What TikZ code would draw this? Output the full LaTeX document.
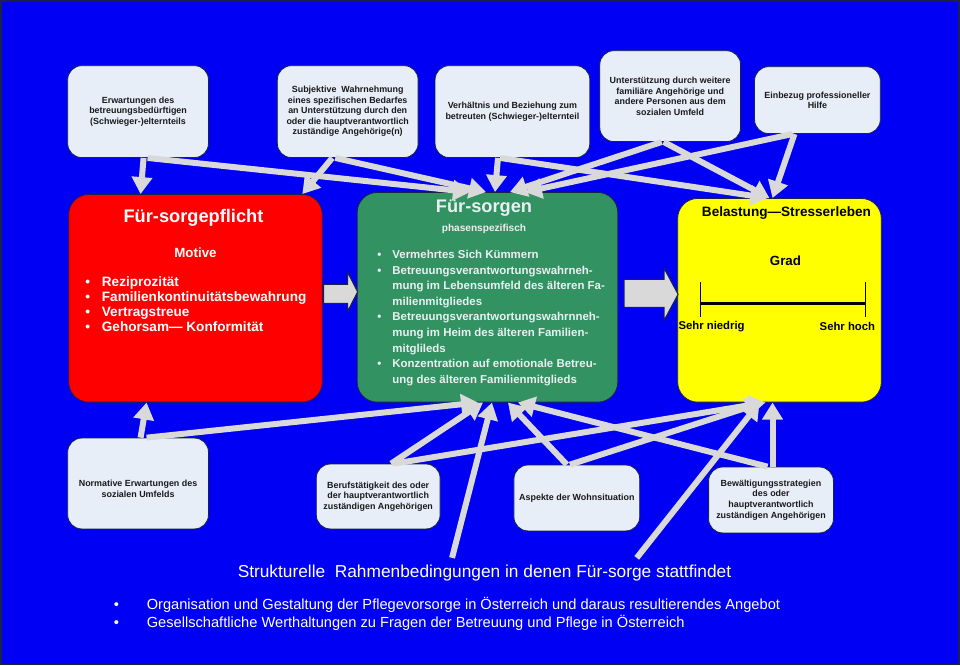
\documentclass[tikz,border=0pt]{standalone}
\usepackage{fontspec}
\setmainfont{Liberation Sans}
\usetikzlibrary{calc,arrows.meta}
\definecolor{bg}{RGB}{0,0,245}
\definecolor{boxfill}{RGB}{232,238,248}
\definecolor{boxline}{RGB}{25,35,70}
\definecolor{arrowgray}{RGB}{217,217,217}
\definecolor{fsgreen}{RGB}{50,146,98}
\definecolor{fsred}{RGB}{255,0,0}
\definecolor{fsyellow}{RGB}{255,255,0}
\definecolor{greentext}{RGB}{234,240,242}
\tikzset{
  sbox/.style={draw=boxline, line width=0.6pt, fill=boxfill, rounded corners=10.5pt,
    inner sep=0pt, align=center, font=\fontsize{6.7}{7.9}\selectfont\bfseries, text=black!90},
  stext/.style={inner sep=0pt, align=center, font=\fontsize{6.7}{7.9}\selectfont\bfseries, text=black!90},
  mainbox/.style={draw=boxline, line width=0.6pt, rounded corners=15pt, inner sep=0pt},
  conn/.style={draw=arrowgray, line width=4.5pt, -{Triangle[length=12.75pt,width=15pt]}},
  blockarrow/.style={fill=arrowgray, draw=boxline, line width=0.75pt, line join=miter},
  bigtitle/.style={inner sep=0pt, font=\fontsize{13.7}{16}\selectfont\bfseries},
  subtitle/.style={inner sep=0pt, font=\fontsize{10}{12}\selectfont\bfseries},
  listnode/.style={inner sep=0pt, anchor=west},
  scalelabel/.style={inner sep=0pt, font=\fontsize{8.5}{10}\selectfont\bfseries},
}
\begin{document}
\begin{tikzpicture}[x=0.75pt,y=-0.75pt]
\path[use as bounding box, fill=bg, draw=boxline, line width=1.2pt] (0,0) rectangle (960,665);

% top boxes
\node[sbox, minimum width=105.75pt, minimum height=69pt] (A) at (137.5,111)
  {Erwartungen des\\betreuungsbedürftigen\\(Schwieger-)elternteils};
\node[sbox, minimum width=105.75pt, minimum height=69pt] (B) at (347.5,111)
  {Subjektive~ Wahrnehmung\\eines spezifischen Bedarfes\\an Unterstützung durch den\\oder die hauptverantwortlich\\zuständige Angehörige(n)};
\node[sbox, minimum width=116.25pt, minimum height=69pt] (C) at (512.5,111)
  {Verhältnis und Beziehung zum\\betreuten (Schwieger-)elternteil};
\node[sbox, minimum width=105.75pt, minimum height=68.25pt] (D) at (670.5,95.5)
  {Unterstützung durch weitere\\familiäre Angehörige und\\andere Personen aus dem\\sozialen Umfeld};
\node[sbox, minimum width=94.5pt, minimum height=50.25pt] (E) at (818,99.5)
  {Einbezug professioneller\\Hilfe};

% main boxes
\node[mainbox, fill=fsred, minimum width=190.5pt, minimum height=156pt] (R) at (195,298) {};
\node[mainbox, fill=fsgreen, minimum width=195.75pt, minimum height=157.5pt] (Gr) at (487.5,297) {};
\node[mainbox, fill=fsyellow, minimum width=153pt, minimum height=153pt] (Y) at (780,300) {};

% red content
\node[bigtitle, text=white] (Rt) at (193,217) {Für-sorgepflicht};
\node[subtitle, text=white] (Rm) at (195,252) {Motive};
\node[listnode, text=white, font=\fontsize{10.2}{11.25}\selectfont\bfseries] (Rl) at (84.5,305.5)
  {\begin{tabular}{@{}p{12.4pt}@{}l@{}}
   \textbullet & Reziprozität\\
   \textbullet & Familienkontinuitätsbewahrung\\
   \textbullet & Vertragstreue\\
   \textbullet & Gehorsam— Konformität
   \end{tabular}};

% green content
\node[bigtitle, text=greentext] (Gt) at (484,208) {Für-sorgen};
\node[inner sep=0pt, text=greentext, font=\fontsize{7.6}{9}\selectfont\bfseries] (Gs) at (484,228) {phasenspezifisch};
\node[listnode, text=greentext, font=\fontsize{8.6}{11.7}\selectfont\bfseries] (Gl) at (377,317.5)
  {\begin{tabular}{@{}p{11.25pt}@{}l@{}}
   \textbullet & Vermehrtes Sich Kümmern\\
   \textbullet & Betreuungsverantwortungswahrneh-\\
   & mung im Lebensumfeld des älteren Fa-\\
   & milienmitgliedes\\
   \textbullet & Betreuungsverantwortungswahrnneh-\\
   & mung im Heim des älteren Familien-\\
   & mitglileds\\
   \textbullet & Konzentration auf emotionale Betreu-\\
   & ung des älteren Familienmitglieds
   \end{tabular}};

% yellow content
\node[inner sep=0pt, font=\fontsize{10.2}{12}\selectfont\bfseries] (Yt) at (787,213) {Belastung—Stresserleben};
\node[inner sep=0pt, font=\fontsize{10}{12}\selectfont\bfseries] (Yg) at (786,260) {Grad};
\coordinate (lo) at (701,303);
\coordinate (hi) at (866,303);
\draw[line width=2.25pt] (lo) -- (hi);
\draw[line width=1.1pt] ($(lo)+(0,-21)$) -- ($(lo)+(0,14)$);
\draw[line width=1.1pt] ($(hi)+(0,-21)$) -- ($(hi)+(0,14)$);
\node[scalelabel] (Yn) at (712,326) {Sehr niedrig};
\node[scalelabel] (Yh) at (848,326) {Sehr hoch};

% block arrows
\draw[blockarrow] ($(R.east)+(1,-14)$) -- ++(24,0) -- ++(0,-12) -- ++(10,19.5)
  -- ++(-10,19.5) -- ++(0,-8) -- ++(-24,0) -- cycle;
\draw[blockarrow] ($(Gr.east)+(6,-18)$) -- ++(40,0) -- ++(0,-11) -- ++(14,26)
  -- ++(-14,26) -- ++(0,-13) -- ++(-40,0) -- cycle;

% bottom boxes
\node[sbox, minimum width=105.75pt, minimum height=68.25pt] (F) at (137.5,483.5) {};
\node[stext] (Ft) at ($(F.center)+(0,5.5)$) {Normative Erwartungen des\\sozialen Umfelds};
\node[sbox, minimum width=93pt, minimum height=48.75pt] (G) at (378,496.5)
  {Berufstätigkeit des oder\\der hauptverantwortlich\\zuständigen Angehörigen};
\node[sbox, minimum width=94.5pt, minimum height=49.5pt] (H) at (577,498)
  {Aspekte der Wohnsituation};
\node[sbox, minimum width=93.75pt, minimum height=49.5pt] (I) at (771.5,500)
  {Bewältigungsstrategien\\des oder\\hauptverantwortlich\\zuständigen Angehörigen};

% structural text
\node[inner sep=0pt, text=white, font=\fontsize{13}{15}\selectfont] (St) at (484.5,573)
  {Strukturelle~ Rahmenbedingungen in denen Für-sorge stattfindet};
\node[listnode, text=white, font=\fontsize{11}{12}\selectfont] (Sl) at (113,615)
  {\begin{tabular}{@{}p{24.75pt}@{}l@{}}
   \textbullet & Organisation und Gestaltung der Pflegevorsorge in Österreich und daraus resultierendes Angebot\\
   \textbullet & Gesellschaftliche Werthaltungen zu Fragen der Betreuung und Pflege in Österreich
   \end{tabular}};
\coordinate (s1) at (452,558);
\coordinate (s2) at (637,558);

% top connectors
\draw[conn] ($(A.south)+(5.5,0)$) -- ($(R.north)+(-55,0)$);
\draw[conn] ($(A.south)+(9.5,0)$) -- ($(Gr.north)+(-17.5,0)$);
\draw[conn] ($(B.south)+(-15.5,0)$) -- ($(R.north)+(107,0)$);
\draw[conn] ($(B.south)+(-12.5,0)$) -- ($(Gr.north)+(-1.5,0)$);
\draw[conn] ($(C.south)+(-14.5,0)$) -- ($(Gr.north)+(7.5,0)$);
\draw[conn] ($(C.south)+(-12.5,0)$) -- ($(Y.north)+(-12,0)$);
\draw[conn] ($(D.south)+(-8.5,0)$) -- ($(Gr.north)+(22.5,0)$);
\draw[conn] ($(D.south)+(-6.5,0)$) -- ($(Y.north)+(-10,0)$);
\draw[conn] ($(E.south)+(-25,0)$) -- ($(Gr.north)+(37.5,0)$);
\draw[conn] ($(E.south)+(-23,0)$) -- ($(Y.north)+(-7,0)$);

% bottom connectors
\draw[conn] ($(F.north)+(2.5,0)$) -- ($(R.south)+(-49,0)$);
\draw[conn] ($(F.north)+(8.5,0)$) -- ($(Gr.south)+(-9.5,0)$);
\draw[conn] ($(G.north)+(13,0)$) -- ($(Gr.south)+(-4.5,0)$);
\draw[conn] ($(G.north)+(16,0)$) -- ($(Y.south)+(-14,0)$);
\draw[conn] (s1) -- ($(Gr.south)+(4.5,0)$);
\draw[conn] ($(H.north)+(-10,0)$) -- ($(Gr.south)+(20.5,0)$);
\draw[conn] ($(H.north)+(-7,0)$) -- ($(Y.south)+(-17,0)$);
\draw[conn] ($(I.north)+(-3.5,0)$) -- ($(Gr.south)+(30.5,0)$);
\draw[conn] ($(I.north)+(1.5,0)$) -- ($(Y.south)+(-7,0)$);
\draw[conn] (s2) -- ($(Y.south)+(-20,0)$);
\end{tikzpicture}
\end{document}
